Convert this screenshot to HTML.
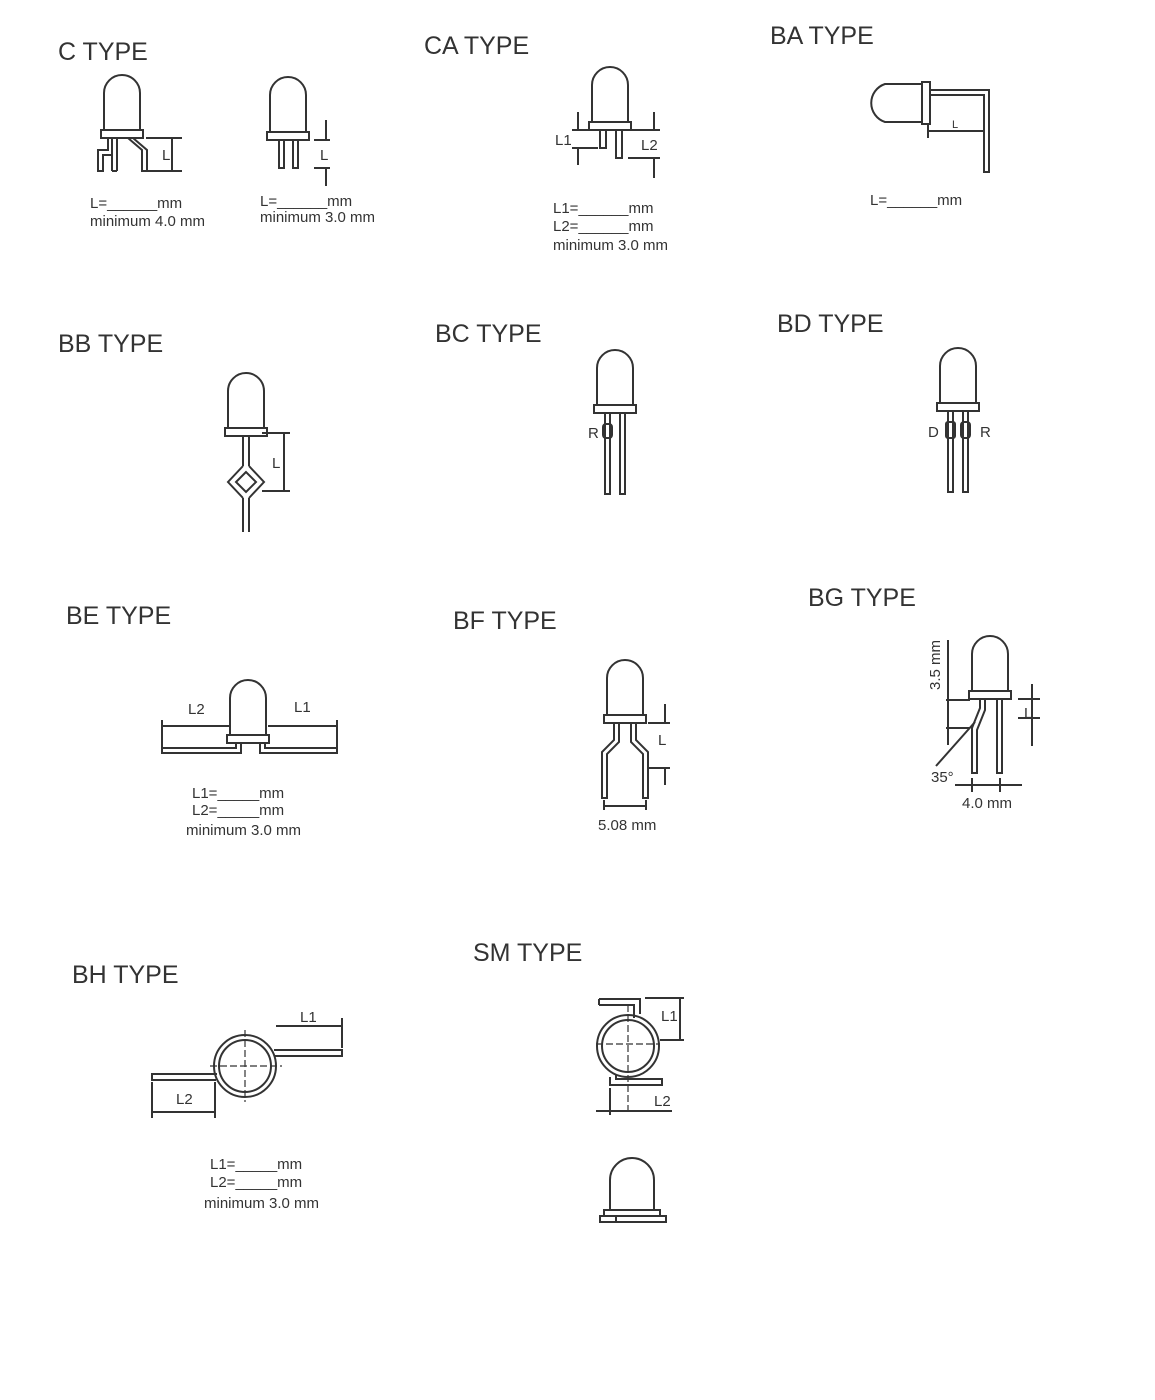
<!DOCTYPE html>
<html><head><meta charset="utf-8"><style>
body{margin:0;background:#fff;}
svg{display:block}
text{font-family:"Liberation Sans",sans-serif;fill:#333}
.t{font-size:25px;transform-box:fill-box}
.s{font-size:15px}
</style></head><body>
<svg width="1155" height="1400" viewBox="0 0 1155 1400" fill="none" stroke="#333" stroke-width="2">
<defs>
<g id="led">
<path d="M-18 55 V18 A18 18 0 0 1 18 18 V55"/>
<rect x="-21" y="55" width="42" height="8"/>
</g>
</defs>

<!-- titles -->
<g stroke="none">
<text class="t" x="58" y="60">C  TYPE</text>
<text class="t" x="424" y="54">CA  TYPE</text>
<text class="t" x="770" y="44">BA  TYPE</text>
<text class="t" x="58" y="352">BB  TYPE</text>
<text class="t" x="435" y="342">BC  TYPE</text>
<text class="t" x="777" y="332">BD  TYPE</text>
<text class="t" x="66" y="624">BE  TYPE</text>
<text class="t" x="453" y="629">BF  TYPE</text>
<text class="t" x="808" y="606">BG  TYPE</text>
<text class="t" x="72" y="983">BH  TYPE</text>
<text class="t" x="473" y="961">SM  TYPE</text>
</g>

<!-- C type left -->
<use href="#led" x="122" y="75"/>
<path d="M112 138 V171 M117 138 V171 M112 171 H117"/>
<path d="M108 138 V150 H98 V171 H103 V155 H113"/>
<path d="M128 138 L142 150 V171 H147 V150 L133 138"/>
<path d="M146 138 H182 M146 171 H182 M172 138 V171"/>
<g stroke="none"><text class="s" x="162" y="160">L</text>
<text class="s" x="90" y="208">L=______mm</text><text class="s" x="90" y="226">minimum  4.0 mm</text></g>

<!-- C type right -->
<use href="#led" x="288" y="77"/>
<path d="M279 140 V168 H284 V140 M293 140 V168 H298 V140"/>
<path d="M314 140 H330 M314 168 H330 M326 120 V140 M326 168 V186"/>
<g stroke="none"><text class="s" x="320" y="160">L</text>
<text class="s" x="260" y="206">L=______mm</text><text class="s" x="260" y="222">minimum  3.0 mm</text></g>

<!-- CA -->
<use href="#led" x="610" y="67"/>
<path d="M600 130 V148 H606 V130 M616 130 V158 H622 V130"/>
<path d="M572 130 H598 M572 148 H598 M578 112 V130 M578 148 V165"/>
<path d="M628 130 H660 M628 158 H660 M654 112 V130 M654 158 V178"/>
<g stroke="none"><text class="s" x="555" y="145">L1</text><text class="s" x="641" y="150">L2</text>
<text class="s" x="553" y="213">L1=______mm</text><text class="s" x="553" y="231">L2=______mm</text><text class="s" x="553" y="250">minimum  3.0 mm</text></g>

<!-- BA -->
<path d="M922 84 H885 A20 20 0 0 0 885 122 H922"/>
<rect x="922" y="82" width="8" height="42"/>
<path d="M930 95 H984 V172 H989 V90 H930"/>
<path d="M928 131 H984 M928 124 V138"/>
<g stroke="none"><text class="s" x="952" y="128" style="font-size:11px">L</text>
<text class="s" x="870" y="205">L=______mm</text></g>

<!-- BB -->
<use href="#led" x="246" y="373"/>
<path d="M243 436 V466 M249 436 V466 M243 466 L228 482 L243 498 M249 466 L264 482 L249 498 M246 472 L236 482 L246 492 L256 482 Z M243 498 V532 M249 498 V532"/>
<path d="M262 433 H290 M262 491 H290 M284 433 V491"/>
<g stroke="none"><text class="s" x="272" y="468">L</text></g>

<!-- BC -->
<use href="#led" x="615" y="350"/>
<path d="M605 413 V494 H610 V413 M620 413 V494 H625 V413"/>
<rect x="603" y="424" width="9" height="14" rx="3"/>
<g stroke="none"><text class="s" x="588" y="438">R</text></g>

<!-- BD -->
<use href="#led" x="958" y="348"/>
<path d="M948 411 V492 H953 V411 M963 411 V492 H968 V411"/>
<rect x="946" y="422" width="9" height="16" rx="2"/><rect x="961" y="422" width="9" height="16" rx="3"/>
<g stroke="none"><text class="s" x="928" y="437">D</text><text class="s" x="980" y="437">R</text></g>

<!-- BE -->
<use href="#led" x="248" y="680"/>
<path d="M236 743 V748 H162 V753 H241 V743 M260 743 V753 H337 V748 H265 V743"/>
<path d="M162 720 V750 M337 720 V750 M162 726 H229 M268 726 H337"/>
<g stroke="none"><text class="s" x="188" y="714">L2</text><text class="s" x="294" y="712">L1</text>
<text class="s" x="192" y="798">L1=_____mm</text><text class="s" x="192" y="815">L2=_____mm</text><text class="s" x="186" y="835">minimum  3.0 mm</text></g>

<!-- BF -->
<use href="#led" x="625" y="660"/>
<path d="M614 723 V740 L602 752 V798 H607 V754 L619 742 V723 M631 723 V742 L643 754 V798 H648 V752 L636 740 V723"/>
<path d="M648 723 H670 M648 768 H670 M665 704 V723 M665 768 V785 M604 800 V810 M646 800 V810 M604 806 H646"/>
<g stroke="none"><text class="s" x="658" y="745">L</text><text class="s" x="598" y="830">5.08 mm</text></g>

<!-- BG -->
<use href="#led" x="990" y="636"/>
<path d="M980 699 V708 L972 728 V773 H977 V730 L985 710 V699 M997 699 V773 H1002 V699"/>
<path d="M946 700 H970 M946 728 H970 M948 640 V745 M936 766 L975 722"/>
<path d="M1018 699 H1040 M1018 718 H1040 M1032 684 V746"/>
<path d="M955 785 H1022 M972 778 V792 M1000 778 V792"/>
<g stroke="none"><text class="s" x="1024" y="718">L</text>
<text class="s" x="940" y="690" transform="rotate(-90 940 690)">3.5 mm</text>
<text class="s" x="931" y="782">35°</text><text class="s" x="962" y="808">4.0 mm</text></g>

<!-- BH -->
<circle cx="245" cy="1066" r="31"/><circle cx="245" cy="1066" r="26"/>
<path d="M274 1050 H342 V1056 H274 M217 1074 H152 V1080 H216" />
<path d="M245 1030 V1102 M210 1066 H282" stroke-dasharray="7 3" stroke-width="1.2"/>
<path d="M276 1026 H342 M342 1018 V1048 M152 1112 H215 M152 1082 V1118 M215 1082 V1118"/>
<g stroke="none"><text class="s" x="300" y="1022">L1</text><text class="s" x="176" y="1104">L2</text>
<text class="s" x="210" y="1169">L1=_____mm</text><text class="s" x="210" y="1187">L2=_____mm</text><text class="s" x="204" y="1208">minimum  3.0 mm</text></g>

<!-- SM -->
<circle cx="628" cy="1046" r="31"/><circle cx="628" cy="1046" r="26"/>
<path d="M599 999 H640 V1014 M599 1005 H634 V1018 M599 999 V1005 M640 999 V1005"/>
<path d="M610 1077 V1085 H662 V1079 H616 V1075"/>
<path d="M628 1005 V1110 M596 1044 H660" stroke-dasharray="7 3" stroke-width="1.2"/>
<path d="M645 998 H684 M660 1040 H684 M680 998 V1040 M610 1088 V1115 M596 1111 H672"/>
<g stroke="none"><text class="s" x="661" y="1021">L1</text><text class="s" x="654" y="1106">L2</text></g>
<path d="M610 1210 V1180 A22 22 0 0 1 654 1180 V1210"/>
<rect x="604" y="1210" width="56" height="6"/>
<rect x="600" y="1216" width="66" height="6"/>
<path d="M616 1216 V1222"/>
</svg>
</body></html>
